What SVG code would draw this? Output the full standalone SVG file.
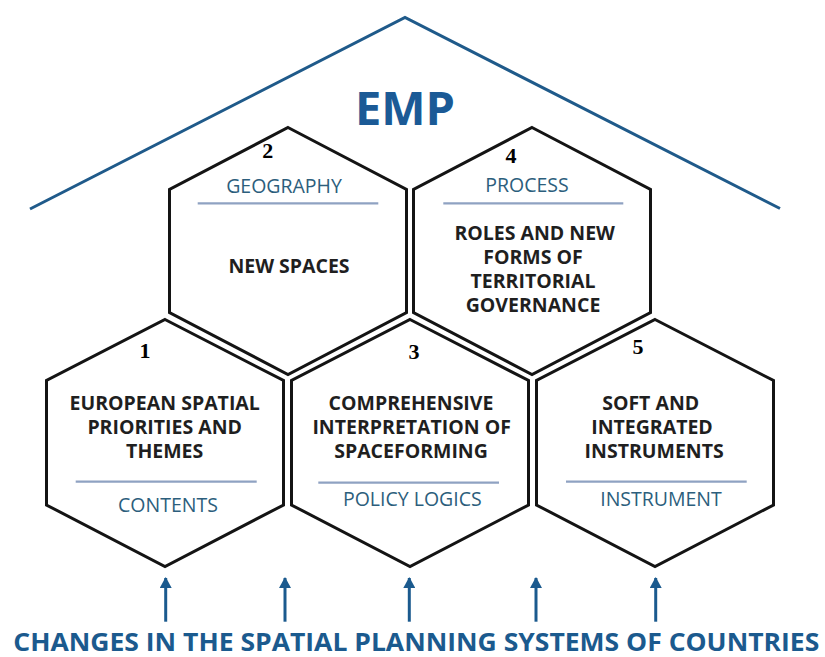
<svg xmlns="http://www.w3.org/2000/svg" width="825" height="657" viewBox="0 0 825 657">
<defs>
<style>
.hex{fill:none;stroke:#141414;stroke-width:3;stroke-linejoin:miter}
.sep{stroke:#8fa2c2;stroke-width:2.2}
.sub{font-family:"Open Sans","Noto Sans",sans-serif;font-size:19.5px;fill:#2c5e7c;text-anchor:middle}
.main{font-family:"Open Sans","Noto Sans",sans-serif;font-size:19.5px;font-weight:bold;fill:#1f1f1f;text-anchor:middle}
.num{font-family:"Liberation Serif","Times New Roman",serif;font-size:22px;font-weight:bold;fill:#000;text-anchor:middle}
.arr{stroke:#1b5a8e;stroke-width:3;fill:none}
</style>
<marker id="ah" viewBox="0 0 11 12" refX="10" refY="6" markerWidth="11" markerHeight="12" markerUnits="userSpaceOnUse" orient="auto">
<path d="M0,0 L11,6 L0,12 Z" fill="#1b5a8e"/>
</marker>
</defs>
<rect width="825" height="657" fill="#ffffff"/>
<g id="roof">
<polyline points="30,209 405,17.5 780,208.5" fill="none" stroke="#1f5a8a" stroke-width="3"/>
<text x="405" y="125" font-family="'Open Sans','Noto Sans',sans-serif" font-size="47" font-weight="bold" fill="#1b5a96" text-anchor="middle">EMP</text>
</g>
<g id="hex2">
<polygon class="hex" points="288,127.5 406.5,189.5 406.5,312.5 288,374.5 169.5,312.5 169.5,189.5"/>
<text class="num" x="267.7" y="158.3">2</text>
<text class="sub" x="284" y="193">GEOGRAPHY</text>
<line class="sep" x1="197.7" y1="203.3" x2="378.3" y2="203.3"/>
<text class="main" x="289" y="273">NEW SPACES</text>
</g>
<g id="hex4">
<polygon class="hex" points="532,127.5 650.5,189.5 650.5,312.5 532,374.5 413.5,312.5 413.5,189.5"/>
<text class="num" x="511" y="163">4</text>
<text class="sub" x="527" y="192.3">PROCESS</text>
<line class="sep" x1="443.3" y1="203.3" x2="623.3" y2="203.3"/>
<text class="main" x="534.7" y="239.5">ROLES AND NEW</text>
<text class="main" x="533" y="263.5">FORMS OF</text>
<text class="main" x="533" y="288">TERRITORIAL</text>
<text class="main" x="533" y="311.5">GOVERNANCE</text>
</g>
<g id="hex1">
<polygon class="hex" points="165,319.5 283.5,380.5 283.5,505 165,566.5 46.5,505 46.5,380.5"/>
<text class="num" x="145" y="358">1</text>
<text class="main" x="164.7" y="409.5">EUROPEAN SPATIAL</text>
<text class="main" x="164.7" y="434">PRIORITIES AND</text>
<text class="main" x="164.7" y="458">THEMES</text>
<line class="sep" x1="75.7" y1="481.7" x2="256.7" y2="481.7"/>
<text class="sub" x="168" y="511.5">CONTENTS</text>
</g>
<g id="hex3">
<polygon class="hex" points="410,319.5 528.5,380.5 528.5,505 410,566.5 291.5,505 291.5,380.5"/>
<text class="num" x="414" y="359">3</text>
<text class="main" x="411" y="410">COMPREHENSIVE</text>
<text class="main" x="411.7" y="433.5">INTERPRETATION OF</text>
<text class="main" x="411" y="457.5">SPACEFORMING</text>
<line class="sep" x1="318.3" y1="482.7" x2="499" y2="482.7"/>
<text class="sub" x="412.3" y="506">POLICY LOGICS</text>
</g>
<g id="hex5">
<polygon class="hex" points="655,319.5 773.5,380.5 773.5,505 655,566.5 536.5,505 536.5,380.5"/>
<text class="num" x="638" y="354.3">5</text>
<text class="main" x="650.7" y="409.5">SOFT AND</text>
<text class="main" x="652" y="434">INTEGRATED</text>
<text class="main" x="654.2" y="458">INSTRUMENTS</text>
<line class="sep" x1="566" y1="481.7" x2="746.7" y2="481.7"/>
<text class="sub" x="661" y="506">INSTRUMENT</text>
</g>
<g id="connectors">
<line class="arr" x1="165.7" y1="621.7" x2="165.7" y2="578" marker-end="url(#ah)"/>
<line class="arr" x1="285" y1="621.7" x2="285" y2="578" marker-end="url(#ah)"/>
<line class="arr" x1="409.3" y1="621.7" x2="409.3" y2="578" marker-end="url(#ah)"/>
<line class="arr" x1="536" y1="621.7" x2="536" y2="578" marker-end="url(#ah)"/>
<line class="arr" x1="655.7" y1="621.7" x2="655.7" y2="578" marker-end="url(#ah)"/>
</g>
<g id="base">
<text x="13.3" y="651" font-family="'Open Sans','Noto Sans',sans-serif" font-size="25" font-weight="bold" fill="#1b5a8e" textLength="806" lengthAdjust="spacingAndGlyphs">CHANGES IN THE SPATIAL PLANNING SYSTEMS OF COUNTRIES</text>
</g>
</svg>
